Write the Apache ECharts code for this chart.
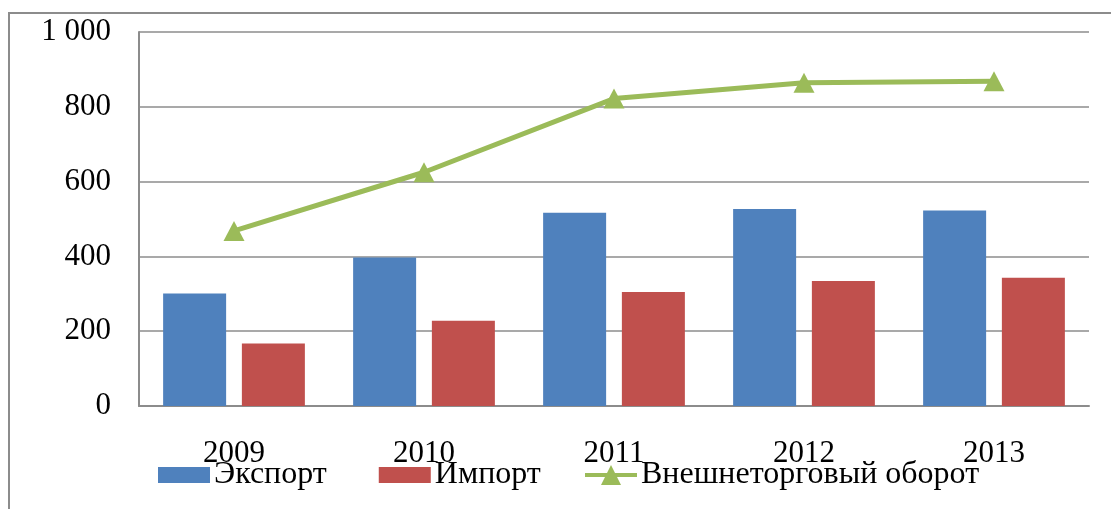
<!DOCTYPE html>
<html>
<head>
<meta charset="utf-8">
<script src="https://cdn.jsdelivr.net/npm/echarts@6/dist/echarts.min.js"></script>
<style>
  html, body { margin: 0; padding: 0; background: #fff; }
  #chart { width: 1111px; height: 509px; }
</style>
</head>
<body>
<div id="chart"></div>
<script>
// годы и значения (читаются с графика)
const years = ['2009', '2010', '2011', '2012', '2013'];
const exportVals = [301, 397, 517, 527, 523];
const importVals = [167, 228, 305, 334, 343];
const turnoverVals = [468, 625, 822, 864, 868];
const yTicks = [0, 200, 400, 600, 800, 1000];

const font = '"Liberation Serif", "Times New Roman", serif';
const gridColor = '#8c8c8c';
// значок легенды: линия с треугольником
const lineIcon = 'path://M0 8 L22 8 L26 0 L30 8 L52 8 L52 12 L32 12 L36 20 L16 20 L20 12 L0 12 Z';

const legendText = { fontFamily: font, fontSize: 32, color: '#000', padding: [0, 0, 0, -1] };

const chart = echarts.init(document.getElementById('chart'));
chart.setOption({
  animation: false,
  textStyle: { fontFamily: font, color: '#000' },
  graphic: [
    {
      type: 'rect',
      silent: true,
      z: -1,
      shape: { x: 9, y: 13, width: 1200, height: 600 },
      style: { fill: 'none', stroke: gridColor, lineWidth: 2 },
    },
  ],
  grid: { left: 139, right: 22, top: 32, bottom: 103 },
  legend: [
    {
      left: 158,
      top: 459,
      padding: 0,
      itemWidth: 52,
      itemHeight: 16,
      itemGap: 52,
      icon: 'rect',
      textStyle: legendText,
      data: ['Экспорт', 'Импорт'],
    },
    {
      left: 585,
      top: 459,
      padding: 0,
      itemWidth: 52,
      itemHeight: 20,
      textStyle: legendText,
      data: [{ name: 'Внешнеторговый оборот', icon: lineIcon }],
    },
  ],
  xAxis: {
    type: 'category',
    data: years,
    axisLine: { lineStyle: { color: gridColor, width: 2 } },
    axisTick: { show: false },
    axisLabel: { fontFamily: font, fontSize: 31, color: '#000', margin: 32 },
  },
  yAxis: {
    type: 'value',
    min: yTicks[0],
    max: yTicks[yTicks.length - 1],
    interval: 200,
    axisLine: { show: true, lineStyle: { color: gridColor, width: 2 } },
    axisTick: { show: false },
    splitLine: { lineStyle: { color: gridColor, width: 1.5 } },
    axisLabel: {
      fontFamily: font,
      fontSize: 31,
      color: '#000',
      margin: 28,
      formatter: v => String(v).replace(/\B(?=(\d{3})+(?!\d))/g, ' '),
    },
  },
  series: [
    {
      name: 'Экспорт',
      type: 'bar',
      data: exportVals,
      barWidth: 63,
      barGap: '25%',
      itemStyle: { color: '#4F81BD' },
    },
    {
      name: 'Импорт',
      type: 'bar',
      data: importVals,
      barWidth: 63,
      itemStyle: { color: '#C0504D' },
    },
    {
      name: 'Внешнеторговый оборот',
      type: 'line',
      data: turnoverVals,
      symbol: 'triangle',
      symbolSize: [21, 20],
      lineStyle: { color: '#9BBB59', width: 5 },
      itemStyle: { color: '#9BBB59' },
      z: 5,
    },
  ],
});
</script>
</body>
</html>
